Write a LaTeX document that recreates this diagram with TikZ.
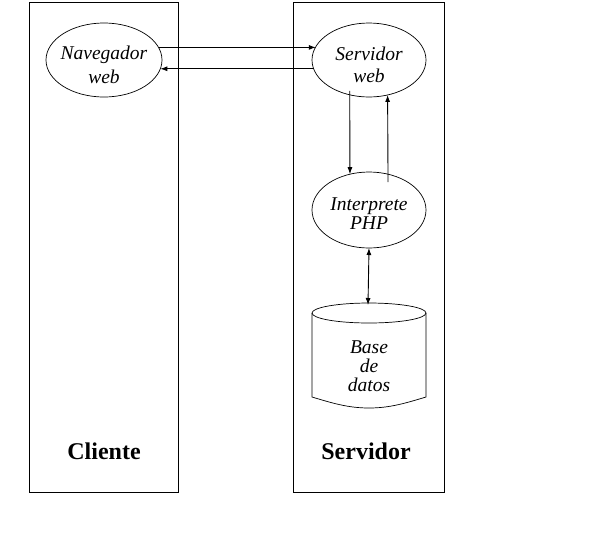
\documentclass[tikz,border=0pt]{standalone}
\usepackage{fontspec}
\setmainfont{Liberation Serif}
\usetikzlibrary{arrows.meta,shapes.geometric}
\tikzset{
  frame/.style={draw=black, line width=0.9pt},
  ell/.style={draw=black, shape=ellipse, line width=0.7pt, inner sep=0pt, outer sep=0pt},
  etext/.style={align=center, inner sep=0pt, font=\itshape\fontsize{19.5}{22}\selectfont},
  lbl/.style={inner sep=0pt, font=\bfseries\fontsize{24}{28}\selectfont, anchor=base},
  conn/.style={draw=black, line width=0.9pt, -{Latex[length=7pt,width=5pt]}},
  dconn/.style={draw=black, line width=0.9pt, {Latex[length=7pt,width=5pt]}-{Latex[length=7pt,width=5pt]}},
}
\begin{document}
\begin{tikzpicture}[x=1pt,y=-1pt]
\useasboundingbox (0,0) rectangle (615,539);
% frames
\draw[frame] (29,2) rectangle (178,492);
\draw[frame] (293,2) rectangle (444,492);
% ellipses
\node[ell, minimum width=116pt, minimum height=74pt] (nav) at (104,60) {};
\node[etext] (navt) at (104,65) {Navegador\\[2pt]web};
\node[ell, minimum width=114pt, minimum height=74pt] (serv) at (369,60) {};
\node[etext] (servt) at (369,65) {Servidor\\web};
\node[ell, minimum width=114pt, minimum height=76pt] (interp) at (369,210) {};
\node[etext, font=\itshape\fontsize{19.5}{19}\selectfont] (interpt) at (369,214) {Interprete\\PHP};
% database cylinder
\draw[line width=0.7pt] (312,313) -- (312,397) .. controls (332,403) and (348,408) .. (369,408) .. controls (390,408) and (406,403) .. (426,397) -- (426,313);
\draw[line width=0.7pt] (369,313) ellipse [x radius=57pt, y radius=10pt];
\coordinate (dbtop) at (368,305);
\node[etext, font=\itshape\fontsize{19.5}{19}\selectfont] (db) at (369,366) {Base\\de\\datos};
% connectors
\draw[conn] (nav.13.5) -- (serv.166.3 |- nav.13.5);
\draw[conn] (serv.189.2) -- (nav.-9.1 |- serv.189.2);
\draw[conn] ([yshift=4pt]serv.241.4) -- (interp.118);
\draw[conn] ([yshift=-8pt]interp.62) -- (serv.298.6);
\draw[dconn] (interp.south) -- (dbtop);
% labels
\node[lbl] (cliente) at (104,459) {Cliente};
\node[lbl] (servidor) at (366,459) {Servidor};
\end{tikzpicture}
\end{document}
